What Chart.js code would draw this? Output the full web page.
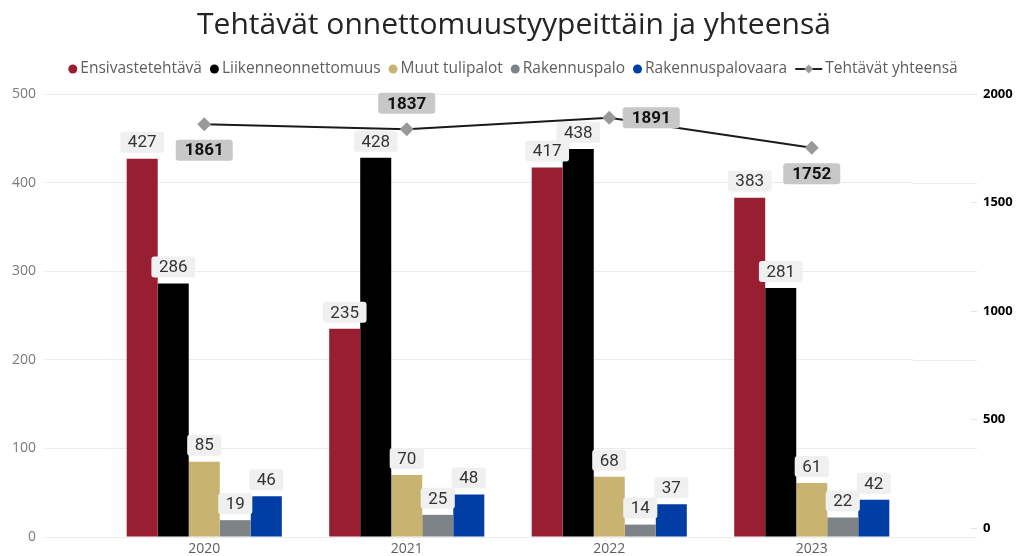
<!DOCTYPE html>
<html lang="fi">
<head>
<meta charset="utf-8">
<title>Tehtävät onnettomuustyypeittäin ja yhteensä</title>
<script src="https://cdn.jsdelivr.net/npm/chart.js@4.4.1/dist/chart.umd.min.js"></script>
<style>
    html, body { margin: 0; padding: 0; background: #fff; overflow: hidden; }
    canvas { display: block; }
</style>
</head>
<body>
<canvas id="tehtavatChart" width="1020" height="556"></canvas>
<script>
// Vuodet (x-akseli)
const vuodet = ['2020', '2021', '2022', '2023'];

// Onnettomuustyypit, pylväät (vasen akseli)
const ensivaste = [427, 235, 417, 383];
const liikenne = [286, 428, 438, 281];
const muutTulipalot = [85, 70, 68, 61];
const rakennuspalo = [19, 25, 14, 22];
const rakennuspalovaara = [46, 48, 37, 42];

// Tehtävät yhteensä, viiva (oikea akseli)
const yhteensa = [1861, 1837, 1891, 1752];

// Akseleiden tikit
const vasenTikit = [0, 100, 200, 300, 400, 500];
const oikeaTikit = [0, 500, 1000, 1500, 2000];

const FONTTI = "'Open Sans', 'Noto Sans', sans-serif";
const NUMEROFONTTI = "Roboto, 'DejaVu Sans', sans-serif";
const RUUDUKKO = '#ebebeb';

// Apufunktio: pyöristetty laatikko
function pyoreaLaatikko(ctx, x, y, w, h, r) {
    ctx.beginPath();
    ctx.moveTo(x + r, y);
    ctx.arcTo(x + w, y, x + w, y + h, r);
    ctx.arcTo(x + w, y + h, x, y + h, r);
    ctx.arcTo(x, y + h, x, y, r);
    ctx.arcTo(x, y, x + w, y, r);
    ctx.closePath();
}

/**
 * Ruudukon jatke oikean akselin puolelle + oikean akselin pienet tikit
 */
const ruudukkoPlugin = {
    id: 'ruudukko',
    beforeDatasetsDraw(chart) {
        const ctx = chart.ctx;
        const y = chart.scales.y;
        const y1 = chart.scales.y1;
        const oikea = chart.chartArea.right;
        ctx.save();
        ctx.strokeStyle = RUUDUKKO;
        ctx.lineWidth = 1;
        y.ticks.forEach(t => {
            const py = Math.round(y.getPixelForValue(t.value)) + 0.5;
            ctx.beginPath();
            ctx.moveTo(oikea, py);
            ctx.lineTo(977, py);
            ctx.stroke();
        });
        ctx.strokeStyle = '#e4e4e4';
        y1.ticks.forEach(t => {
            const py = Math.round(y1.getPixelForValue(t.value)) + 0.5;
            ctx.beginPath();
            ctx.moveTo(971, py);
            ctx.lineTo(977, py);
            ctx.stroke();
        });
        ctx.restore();
    }
};

/**
 * Arvotunnisteet pylväille ja viivalle
 */
const tunnistePlugin = {
    id: 'tunnisteet',
    afterDatasetsDraw(chart, args, opts) {
        const ctx = chart.ctx;
        ctx.save();
        ctx.textAlign = 'center';
        ctx.textBaseline = 'middle';

        chart.data.datasets.forEach((ds, i) => {
            const meta = chart.getDatasetMeta(i);
            if (meta.hidden || ds.type === 'line') return;
            ctx.font = '17px ' + NUMEROFONTTI;
            meta.data.forEach((bar, j) => {
                const teksti = String(ds.data[j]);
                const w = ctx.measureText(teksti).width + 15;
                const h = 21;
                const cx = bar.x;
                const cy = bar.y - 16.5;
                pyoreaLaatikko(ctx, cx - w / 2, cy - h / 2, w, h, 3);
                ctx.fillStyle = '#f0f0f0';
                ctx.fill();
                ctx.fillStyle = '#333333';
                ctx.fillText(teksti, cx, cy + 1);
            });
        });

        // viivan tunnisteet päällimmäisiksi
        chart.data.datasets.forEach((ds, i) => {
            if (ds.type !== 'line') return;
            const meta = chart.getDatasetMeta(i);
            ctx.font = 'bold 17px ' + NUMEROFONTTI;
            meta.data.forEach((pt, j) => {
                const teksti = String(ds.data[j]);
                const w = ctx.measureText(teksti).width + 18;
                const h = 21;
                let cx = pt.x, cy = pt.y;
                const paikka = opts.sijainnit[j];
                if (paikka === 'alla') cy += 26;
                else if (paikka === 'yllä') cy -= 26;
                else if (paikka === 'oikealla') cx += 42;
                pyoreaLaatikko(ctx, cx - w / 2, cy - h / 2, w, h, 3);
                ctx.fillStyle = '#c8c8c8';
                ctx.fill();
                ctx.fillStyle = '#111111';
                ctx.fillText(teksti, cx, cy + 1);
            });
        });
        ctx.restore();
    }
};

/**
 * Oma selite: pallot pylväille, viiva + vinoneliö summalle
 */
const selitePlugin = {
    id: 'selite',
    afterDraw(chart, args, opts) {
        const ctx = chart.ctx;
        ctx.save();
        ctx.font = '15.5px ' + FONTTI;
        ctx.textBaseline = 'middle';
        ctx.textAlign = 'left';

        const items = chart.data.datasets.map(ds => {
            const merkki = ds.type === 'line' ? 27 : 9;
            return { ds, merkki, tw: ctx.measureText(ds.label).width };
        });
        const vali = 3, itemVali = 8;
        const kokonais = items.reduce((s, it) => s + it.merkki + vali + it.tw, 0) + itemVali * (items.length - 1);
        let x = opts.keskiX - kokonais / 2;
        const y = opts.y;

        items.forEach(it => {
            if (it.ds.type === 'line') {
                ctx.strokeStyle = '#222';
                ctx.lineWidth = 2;
                ctx.beginPath();
                ctx.moveTo(x, y);
                ctx.lineTo(x + it.merkki, y);
                ctx.stroke();
                const dx = x + it.merkki / 2;
                ctx.fillStyle = '#999';
                ctx.beginPath();
                ctx.moveTo(dx, y - 4.5);
                ctx.lineTo(dx + 4.5, y);
                ctx.lineTo(dx, y + 4.5);
                ctx.lineTo(dx - 4.5, y);
                ctx.closePath();
                ctx.fill();
            } else {
                ctx.fillStyle = it.ds.backgroundColor;
                ctx.beginPath();
                ctx.arc(x + 4.5, y, 4.5, 0, Math.PI * 2);
                ctx.fill();
            }
            x += it.merkki + vali;
            ctx.fillStyle = '#605e5c';
            ctx.fillText(it.ds.label, x, y);
            x += it.tw + itemVali;
        });
        ctx.restore();
    }
};

function pylvas(label, data, vari) {
    return {
        type: 'bar',
        label: label,
        data: data,
        backgroundColor: vari,
        borderWidth: 0,
        barPercentage: 1.0,
        categoryPercentage: 0.766,
        yAxisID: 'y',
        order: 2
    };
}

function initKaavio() {
    const ctx = document.getElementById('tehtavatChart').getContext('2d');
    return new Chart(ctx, {
        data: {
            labels: vuodet,
            datasets: [
                pylvas('Ensivastetehtävä', ensivaste, '#981e32'),
                pylvas('Liikenneonnettomuus', liikenne, '#000000'),
                pylvas('Muut tulipalot', muutTulipalot, '#c9b370'),
                pylvas('Rakennuspalo', rakennuspalo, '#7d8386'),
                pylvas('Rakennuspalovaara', rakennuspalovaara, '#003da5'),
                {
                    type: 'line',
                    label: 'Tehtävät yhteensä',
                    data: yhteensa,
                    yAxisID: 'y1',
                    borderColor: '#1a1a1a',
                    borderWidth: 2,
                    tension: 0,
                    pointStyle: 'rectRot',
                    pointRadius: 7,
                    pointBackgroundColor: '#999999',
                    pointBorderColor: '#999999',
                    pointBorderWidth: 0,
                    order: 1
                }
            ]
        },
        options: {
            responsive: false,
            animation: false,
            devicePixelRatio: 1,
            layout: { padding: { left: 8, right: 0, top: 0, bottom: 0 } },
            plugins: {
                legend: { display: false },
                tooltip: { enabled: false },
                title: {
                    display: true,
                    text: 'Tehtävät onnettomuustyypeittäin ja yhteensä',
                    color: '#252423',
                    font: { family: FONTTI, size: 30, weight: 'normal' },
                    padding: { top: 7, bottom: 51 }
                },
                selite: { keskiX: 513, y: 69 },
                tunnisteet: { sijainnit: ['alla', 'yllä', 'oikealla', 'alla'] }
            },
            scales: {
                x: {
                    grid: { display: false, drawTicks: false },
                    border: { display: false },
                    ticks: { color: '#605e5c', font: { family: FONTTI, size: 14 }, padding: 4 },
                    afterFit(s) { s.height = 19; }
                },
                y: {
                    position: 'left',
                    min: 0,
                    max: 500,
                    grid: { color: RUUDUKKO, drawTicks: true, tickLength: 58 },
                    border: { display: false },
                    ticks: { color: '#7a7a7a', font: { family: FONTTI, size: 14 }, padding: 9 },
                    afterBuildTicks(s) { s.ticks = vasenTikit.map(v => ({ value: v })); },
                    afterFit(s) { s.width = 95; }
                },
                y1: {
                    position: 'right',
                    min: -41.5,
                    max: 2000,
                    grid: { drawOnChartArea: false, drawTicks: true, tickLength: 61, tickColor: 'rgba(0,0,0,0)' },
                    border: { display: false },
                    ticks: {
                        color: '#000000',
                        font: { family: FONTTI, size: 13, weight: 'bold' },
                        padding: 9,
                        callback: v => String(v)
                    },
                    afterBuildTicks(s) { s.ticks = oikeaTikit.map(v => ({ value: v })); },
                    afterFit(s) { s.width = 107; }
                }
            }
        },
        plugins: [ruudukkoPlugin, tunnistePlugin, selitePlugin]
    });
}

document.addEventListener('DOMContentLoaded', initKaavio);
</script>
</body>
</html>
